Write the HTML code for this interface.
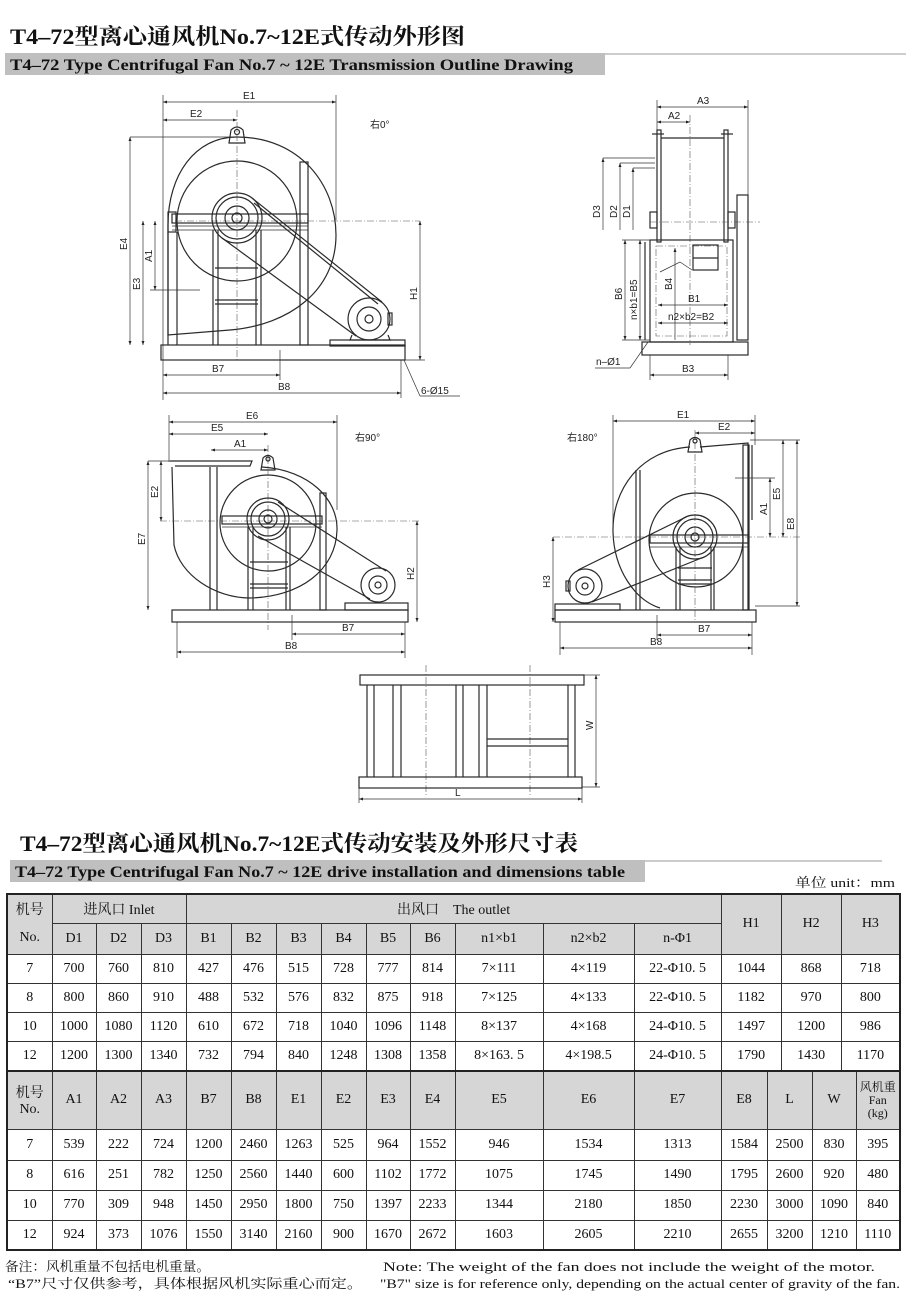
<!DOCTYPE html>
<html><head><meta charset="utf-8">
<style>
html,body{margin:0;padding:0;background:#fff;}
body{width:906px;height:1305px;position:relative;overflow:hidden;font-family:"Liberation Serif","Noto Serif CJK SC",serif;}
svg{position:absolute;left:0;top:0;}
table{position:absolute;left:6px;border-collapse:collapse;table-layout:fixed;border:2px solid #222;font-family:"Liberation Serif","Noto Serif CJK SC",serif;font-size:14px;color:#111;}
td{border:1px solid #333;text-align:center;padding:0;white-space:nowrap;overflow:hidden;}
td.h{background:#d6d6d6;}
.l{stroke:#2a2a2a;fill:none;stroke-width:1.2}
.t{stroke:#333;fill:none;stroke-width:.7}
.c{stroke:#555;fill:none;stroke-width:.6;stroke-dasharray:7 2 1 2}
.lab{font-family:"Liberation Sans","Noto Sans CJK SC",sans-serif;font-size:10px;fill:#222}
</style></head><body>
<svg width="906" height="1305" viewBox="0 0 906 1305">
<defs>
<marker id="a" viewBox="0 0 8 6" refX="8" refY="3" markerWidth="6" markerHeight="5" orient="auto-start-reverse"><path d="M0,0L8,3L0,6z" fill="#222"/></marker>
</defs>
<!-- headers -->
<text x="10" y="44" font-family="Liberation Serif,Noto Serif CJK SC,serif" font-weight="bold" font-size="22" textLength="455" lengthAdjust="spacingAndGlyphs" fill="#111">T4–72型离心通风机No.7~12E式传动外形图</text>
<rect x="5" y="53" width="600" height="22" fill="#bfbfbf"/>
<line x1="605" y1="54" x2="906" y2="54" stroke="#bbb" stroke-width="1.5"/>
<text x="10" y="70" font-family="Liberation Serif,serif" font-weight="bold" font-size="16" textLength="563" lengthAdjust="spacingAndGlyphs" fill="#111">T4–72 Type Centrifugal Fan No.7 ~ 12E Transmission Outline Drawing</text>

<text x="20" y="851" font-family="Liberation Serif,Noto Serif CJK SC,serif" font-weight="bold" font-size="22" textLength="558" lengthAdjust="spacingAndGlyphs" fill="#111">T4–72型离心通风机No.7~12E式传动安装及外形尺寸表</text>
<rect x="10" y="860" width="635" height="22" fill="#bfbfbf"/>
<line x1="645" y1="861" x2="882" y2="861" stroke="#bbb" stroke-width="1.5"/>
<text x="15" y="877" font-family="Liberation Serif,serif" font-weight="bold" font-size="16" textLength="610" lengthAdjust="spacingAndGlyphs" fill="#111">T4–72 Type Centrifugal Fan No.7 ~ 12E drive installation and dimensions table</text>
<text x="795" y="887" font-family="Liberation Serif,Noto Serif CJK SC,serif" font-size="13" textLength="100" lengthAdjust="spacingAndGlyphs" fill="#111">单位 unit：mm</text>

<!-- footer -->
<text x="5" y="1271" font-family="Liberation Serif,Noto Serif CJK SC,serif" font-size="13" textLength="205" lengthAdjust="spacingAndGlyphs" fill="#111">备注：风机重量不包括电机重量。</text>
<text x="8" y="1288" font-family="Liberation Serif,Noto Serif CJK SC,serif" font-size="13" textLength="355" lengthAdjust="spacingAndGlyphs" fill="#111">“B7”尺寸仅供参考，具体根据风机实际重心而定。</text>
<text x="383" y="1271" font-family="Liberation Serif,serif" font-size="13" textLength="492" lengthAdjust="spacingAndGlyphs" fill="#111">Note: The weight of the fan does not include the weight of the motor.</text>
<text x="380" y="1288" font-family="Liberation Serif,serif" font-size="13" textLength="520" lengthAdjust="spacingAndGlyphs" fill="#111">"B7" size is for reference only, depending on the actual center of gravity of the fan.</text>

<!-- ===== Drawing 1 ===== -->
<g>
<line class="t" x1="163" y1="95" x2="163" y2="400"/><line class="t" x1="336" y1="95" x2="336" y2="220"/>
<line class="t" x1="163" y1="102" x2="336" y2="102" marker-start="url(#a)" marker-end="url(#a)"/>
<text class="lab" x="243" y="99">E1</text>
<line class="t" x1="163" y1="120" x2="237" y2="120" marker-start="url(#a)" marker-end="url(#a)"/>
<text class="lab" x="190" y="117">E2</text>
<text class="lab" x="370" y="128">右0°</text>
<path class="l" d="M237,137 C300,137 336,185 336,235 C336,290 290,325 230,330 L168,335 L168,225 C168,175 195,137 237,137"/>
<circle class="l" cx="237" cy="221" r="60"/>
<path class="l" d="M229,143 L231,130 Q237,124 243,130 L245,143 Z"/><circle class="l" cx="237" cy="132" r="2.5"/>
<line class="c" x1="237" y1="110" x2="237" y2="360"/>
<line class="c" x1="175" y1="221" x2="420" y2="221"/>
<rect class="l" x="172" y="214" width="136" height="9"/><line class="t" x1="172" y1="226" x2="308" y2="226"/><line class="t" x1="172" y1="230" x2="308" y2="230"/>
<rect class="l" x="168" y="212" width="8" height="20"/>
<line class="l" x1="168" y1="232" x2="168" y2="345"/><line class="l" x1="177" y1="232" x2="177" y2="345"/>
<line class="l" x1="213" y1="230" x2="213" y2="345"/><line class="l" x1="218" y1="230" x2="218" y2="345"/>
<line class="l" x1="256" y1="230" x2="256" y2="345"/><line class="l" x1="261" y1="230" x2="261" y2="345"/>
<line class="l" x1="215" y1="268" x2="258" y2="268"/><line class="l" x1="215" y1="300" x2="258" y2="300"/><line class="l" x1="215" y1="304" x2="258" y2="304"/>
<rect class="l" x="300" y="162" width="8" height="183"/>
<circle class="l" cx="237" cy="218" r="25" stroke-width="2.5"/><circle class="l" cx="237" cy="218" r="21"/><circle class="l" cx="237" cy="218" r="12"/><circle class="l" cx="237" cy="218" r="5"/>
<line class="l" x1="252" y1="198" x2="382" y2="302" stroke-width="2"/><line class="l" x1="254" y1="203" x2="378" y2="304"/>
<line class="l" x1="222" y1="238" x2="356" y2="336" stroke-width="2"/>
<circle class="l" cx="369" cy="319" r="21" stroke-width="1.8"/><circle class="l" cx="369" cy="319" r="12"/><circle class="l" cx="369" cy="319" r="4"/>
<rect class="l" x="388" y="313" width="4" height="12"/>
<path class="l" d="M352,335 L350,340 L390,340 L388,335"/>
<rect class="l" x="330" y="340" width="75" height="6"/>
<rect class="l" x="161" y="345" width="244" height="15" stroke-width="1.5"/>
<line class="t" x1="130" y1="137" x2="237" y2="137"/>
<line class="t" x1="130" y1="137" x2="130" y2="345" marker-start="url(#a)" marker-end="url(#a)"/>
<text class="lab" transform="translate(127,250) rotate(-90)">E4</text>
<line class="t" x1="143" y1="221" x2="143" y2="345" marker-start="url(#a)" marker-end="url(#a)"/>
<text class="lab" transform="translate(140,290) rotate(-90)">E3</text>
<line class="t" x1="155" y1="221" x2="155" y2="290" marker-start="url(#a)" marker-end="url(#a)"/>
<text class="lab" transform="translate(152,262) rotate(-90)">A1</text>
<line class="t" x1="150" y1="290" x2="200" y2="290"/>
<line class="t" x1="420" y1="221" x2="420" y2="360" marker-start="url(#a)" marker-end="url(#a)"/>
<text class="lab" transform="translate(417,300) rotate(-90)">H1</text>
<line class="t" x1="405" y1="360" x2="425" y2="360"/>
<line class="t" x1="280" y1="350" x2="280" y2="380"/><line class="t" x1="401" y1="360" x2="401" y2="398"/>
<line class="t" x1="163" y1="375" x2="280" y2="375" marker-start="url(#a)" marker-end="url(#a)"/>
<text class="lab" x="212" y="372">B7</text>
<line class="t" x1="163" y1="393" x2="401" y2="393" marker-start="url(#a)" marker-end="url(#a)"/>
<text class="lab" x="278" y="390">B8</text>
<line class="t" x1="404" y1="360" x2="420" y2="396"/><line class="t" x1="420" y1="396" x2="460" y2="396"/>
<text class="lab" x="421" y="394">6-Ø15</text>
</g>

<!-- ===== Drawing 2 ===== -->
<g>
<line class="t" x1="657" y1="100" x2="657" y2="135"/><line class="t" x1="748" y1="100" x2="748" y2="340"/>
<line class="t" x1="657" y1="107" x2="748" y2="107" marker-start="url(#a)" marker-end="url(#a)"/>
<text class="lab" x="697" y="104">A3</text>
<line class="t" x1="657" y1="122" x2="690" y2="122" marker-start="url(#a)" marker-end="url(#a)"/>
<text class="lab" x="668" y="119">A2</text>
<line class="c" x1="690" y1="115" x2="690" y2="345"/>
<line class="l" x1="652" y1="134" x2="664" y2="134"/><line class="l" x1="721" y1="134" x2="733" y2="134"/>
<rect class="l" x="657" y="130" width="4" height="112" fill="#333"/><rect class="l" x="724" y="130" width="4" height="112" fill="#333"/>
<line class="l" x1="661" y1="138" x2="724" y2="138"/>
<rect class="l" x="650" y="212" width="7" height="16"/><rect class="l" x="728" y="212" width="7" height="16"/>
<line class="c" x1="650" y1="222" x2="760" y2="222"/>
<rect class="l" x="737" y="195" width="11" height="145"/>
<rect class="l" x="650" y="240" width="83" height="102" stroke-width="1.8"/>
<rect class="c" x="656" y="246" width="71" height="90" stroke-width="1"/>
<rect class="l" x="693" y="245" width="25" height="25"/><line class="l" x1="693" y1="258" x2="718" y2="258"/>
<path class="t" d="M660,272 L680,262 L692,270"/>
<rect class="l" x="642" y="342" width="106" height="13" stroke-width="1.5"/>
<line class="l" x1="645" y1="242" x2="645" y2="340" stroke-width="2"/>
<line class="t" x1="603" y1="158" x2="655" y2="158"/><line class="t" x1="620" y1="163" x2="655" y2="163"/><line class="t" x1="633" y1="168" x2="655" y2="168"/>
<line class="t" x1="603" y1="158" x2="603" y2="230" marker-start="url(#a)"/><line class="t" x1="620" y1="163" x2="620" y2="230" marker-start="url(#a)"/><line class="t" x1="633" y1="168" x2="633" y2="230" marker-start="url(#a)"/>
<text class="lab" transform="translate(600,218) rotate(-90)">D3</text><text class="lab" transform="translate(617,218) rotate(-90)">D2</text><text class="lab" transform="translate(630,218) rotate(-90)">D1</text>
<line class="t" x1="622" y1="240" x2="650" y2="240"/><line class="t" x1="622" y1="340" x2="650" y2="340"/>
<line class="t" x1="625" y1="240" x2="625" y2="340" marker-start="url(#a)" marker-end="url(#a)"/>
<text class="lab" transform="translate(622,300) rotate(-90)">B6</text>
<line class="t" x1="640" y1="240" x2="640" y2="340" marker-start="url(#a)" marker-end="url(#a)"/>
<text class="lab" transform="translate(637,320) rotate(-90)" font-size="9">n×b1=B5</text>
<line class="t" x1="675" y1="248" x2="675" y2="340" marker-start="url(#a)"/>
<text class="lab" transform="translate(672,290) rotate(-90)">B4</text>
<line class="t" x1="658" y1="305" x2="728" y2="305" marker-start="url(#a)" marker-end="url(#a)"/>
<text class="lab" x="688" y="302">B1</text>
<line class="t" x1="658" y1="323" x2="728" y2="323" marker-start="url(#a)" marker-end="url(#a)"/>
<text class="lab" x="668" y="320" font-size="9">n2×b2=B2</text>
<line class="t" x1="650" y1="355" x2="650" y2="380"/><line class="t" x1="728" y1="355" x2="728" y2="380"/>
<line class="t" x1="650" y1="375" x2="728" y2="375" marker-start="url(#a)" marker-end="url(#a)"/>
<text class="lab" x="682" y="372">B3</text>
<line class="t" x1="595" y1="368" x2="630" y2="368"/><line class="t" x1="630" y1="368" x2="648" y2="342"/>
<text class="lab" x="596" y="365">n–Ø1</text>
</g>

<!-- ===== Drawing 3 ===== -->
<g>
<line class="t" x1="169" y1="415" x2="169" y2="462"/><line class="t" x1="337" y1="415" x2="337" y2="510"/>
<line class="t" x1="169" y1="422" x2="337" y2="422" marker-start="url(#a)" marker-end="url(#a)"/>
<text class="lab" x="246" y="419">E6</text>
<line class="t" x1="169" y1="434" x2="268" y2="434" marker-start="url(#a)" marker-end="url(#a)"/>
<text class="lab" x="211" y="431">E5</text>
<line class="t" x1="211" y1="450" x2="268" y2="450" marker-start="url(#a)" marker-end="url(#a)"/>
<text class="lab" x="234" y="447">A1</text>
<text class="lab" x="355" y="441">右90°</text>
<path class="l" d="M170,461 L252,461 L250,466 L175,466"/>
<path class="l" d="M262,467 C310,470 338,500 337,530 C336,570 300,597 250,598 C215,598 180,575 174,545 L172,467"/>
<circle class="l" cx="268" cy="523" r="48"/>
<path class="l" d="M261,470 L263,458 Q268,453 273,458 L275,470 Z"/><circle class="l" cx="268" cy="459" r="2"/>
<line class="c" x1="268" y1="445" x2="268" y2="630"/>
<line class="c" x1="160" y1="521" x2="420" y2="521"/>
<rect class="l" x="222" y="516" width="100" height="8"/><line class="t" x1="222" y1="527" x2="322" y2="527"/>
<line class="l" x1="210" y1="467" x2="210" y2="610"/><line class="l" x1="217" y1="467" x2="217" y2="610"/>
<line class="l" x1="248" y1="527" x2="248" y2="610"/><line class="l" x1="253" y1="527" x2="253" y2="610"/>
<line class="l" x1="286" y1="527" x2="286" y2="610"/><line class="l" x1="290" y1="527" x2="290" y2="610"/>
<line class="l" x1="250" y1="562" x2="288" y2="562"/><line class="l" x1="250" y1="584" x2="288" y2="584"/><line class="l" x1="250" y1="588" x2="288" y2="588"/>
<rect class="l" x="320" y="493" width="6" height="117"/>
<circle class="l" cx="268" cy="519" r="21" stroke-width="2.5"/><circle class="l" cx="268" cy="519" r="17"/><circle class="l" cx="268" cy="519" r="9"/><circle class="l" cx="268" cy="519" r="4"/>
<line class="l" x1="278" y1="502" x2="386" y2="571" stroke-width="2"/><line class="l" x1="258" y1="536" x2="370" y2="599" stroke-width="2"/>
<circle class="l" cx="378" cy="585" r="17" stroke-width="1.8"/><circle class="l" cx="378" cy="585" r="9"/><circle class="l" cx="378" cy="585" r="3"/>
<rect class="l" x="345" y="603" width="63" height="7"/>
<rect class="l" x="172" y="610" width="236" height="12" stroke-width="1.5"/>
<line class="t" x1="148" y1="461" x2="170" y2="461"/>
<line class="t" x1="148" y1="461" x2="148" y2="610" marker-start="url(#a)" marker-end="url(#a)"/>
<text class="lab" transform="translate(145,545) rotate(-90)">E7</text>
<line class="t" x1="161" y1="461" x2="161" y2="521" marker-start="url(#a)" marker-end="url(#a)"/>
<text class="lab" transform="translate(158,498) rotate(-90)">E2</text>
<line class="t" x1="417" y1="521" x2="417" y2="622" marker-start="url(#a)" marker-end="url(#a)"/>
<text class="lab" transform="translate(414,580) rotate(-90)">H2</text>
<line class="t" x1="292" y1="615" x2="292" y2="640"/><line class="t" x1="405" y1="622" x2="405" y2="658"/><line class="t" x1="177" y1="622" x2="177" y2="658"/>
<line class="t" x1="292" y1="634" x2="405" y2="634" marker-start="url(#a)" marker-end="url(#a)"/>
<text class="lab" x="342" y="631">B7</text>
<line class="t" x1="177" y1="652" x2="405" y2="652" marker-start="url(#a)" marker-end="url(#a)"/>
<text class="lab" x="285" y="649">B8</text>
</g>

<!-- ===== Drawing 4 ===== -->
<g>
<line class="t" x1="613" y1="415" x2="613" y2="525"/><line class="t" x1="755" y1="415" x2="755" y2="445"/>
<line class="t" x1="613" y1="421" x2="755" y2="421" marker-start="url(#a)" marker-end="url(#a)"/>
<text class="lab" x="677" y="418">E1</text>
<line class="t" x1="695" y1="433" x2="755" y2="433" marker-start="url(#a)" marker-end="url(#a)"/>
<text class="lab" x="718" y="430">E2</text>
<text class="lab" x="567" y="441">右180°</text>
<path class="l" d="M700,447 L748,443 L748,610 M690,447 C640,450 612,490 613,532 C614,570 635,600 660,608"/>
<circle class="l" cx="696" cy="540" r="47"/>
<path class="l" d="M688,452 L690,440 Q695,435 700,440 L702,452 Z"/><circle class="l" cx="695" cy="441" r="2"/>
<line class="c" x1="695" y1="430" x2="695" y2="622"/>
<line class="c" x1="553" y1="537" x2="800" y2="537"/>
<rect class="l" x="650" y="535" width="98" height="8"/><line class="t" x1="650" y1="547" x2="748" y2="547"/>
<line class="l" x1="636" y1="470" x2="636" y2="610"/><line class="l" x1="640" y1="470" x2="640" y2="610"/>
<line class="l" x1="676" y1="547" x2="676" y2="610"/><line class="l" x1="680" y1="547" x2="680" y2="610"/>
<line class="l" x1="711" y1="547" x2="711" y2="610"/><line class="l" x1="714" y1="547" x2="714" y2="610"/>
<line class="l" x1="678" y1="568" x2="712" y2="568"/><line class="l" x1="678" y1="580" x2="712" y2="580"/><line class="l" x1="678" y1="584" x2="712" y2="584"/>
<rect class="l" x="743" y="445" width="6" height="165"/><line class="l" x1="752" y1="445" x2="752" y2="520"/>
<circle class="l" cx="695" cy="537" r="22" stroke-width="2.5"/><circle class="l" cx="695" cy="537" r="18"/><circle class="l" cx="695" cy="537" r="10"/><circle class="l" cx="695" cy="537" r="4"/>
<line class="l" x1="686" y1="517" x2="578" y2="570" stroke-width="2"/><line class="l" x1="704" y1="557" x2="592" y2="602" stroke-width="2"/>
<circle class="l" cx="585" cy="586" r="17" stroke-width="1.8"/><circle class="l" cx="585" cy="586" r="9"/><circle class="l" cx="585" cy="586" r="3"/>
<rect class="l" x="566" y="581" width="4" height="10"/>
<rect class="l" x="555" y="604" width="65" height="6"/>
<rect class="l" x="555" y="610" width="201" height="12" stroke-width="1.5"/>
<line class="t" x1="553" y1="537" x2="553" y2="622" marker-start="url(#a)" marker-end="url(#a)"/>
<text class="lab" transform="translate(550,588) rotate(-90)">H3</text>
<line class="t" x1="735" y1="478" x2="775" y2="478"/><line class="t" x1="750" y1="440" x2="800" y2="440"/><line class="t" x1="755" y1="606" x2="800" y2="606"/>
<line class="t" x1="770" y1="478" x2="770" y2="537" marker-start="url(#a)" marker-end="url(#a)"/>
<text class="lab" transform="translate(767,515) rotate(-90)">A1</text>
<line class="t" x1="783" y1="440" x2="783" y2="537" marker-start="url(#a)" marker-end="url(#a)"/>
<text class="lab" transform="translate(780,500) rotate(-90)">E5</text>
<line class="t" x1="797" y1="440" x2="797" y2="606" marker-start="url(#a)" marker-end="url(#a)"/>
<text class="lab" transform="translate(794,530) rotate(-90)">E8</text>
<line class="t" x1="657" y1="615" x2="657" y2="640"/><line class="t" x1="752" y1="622" x2="752" y2="655"/><line class="t" x1="560" y1="622" x2="560" y2="655"/>
<line class="t" x1="657" y1="635" x2="752" y2="635" marker-start="url(#a)" marker-end="url(#a)"/>
<text class="lab" x="698" y="632">B7</text>
<line class="t" x1="560" y1="648" x2="752" y2="648" marker-start="url(#a)" marker-end="url(#a)"/>
<text class="lab" x="650" y="645">B8</text>
</g>

<!-- ===== Drawing 5 ===== -->
<g>
<line class="c" x1="426" y1="665" x2="426" y2="795"/><line class="c" x1="530" y1="665" x2="530" y2="795"/>
<rect class="l" x="360" y="675" width="224" height="10"/>
<rect class="l" x="359" y="777" width="223" height="11"/>
<line class="l" x1="367" y1="685" x2="367" y2="777"/><line class="l" x1="374" y1="685" x2="374" y2="777"/>
<line class="l" x1="393" y1="685" x2="393" y2="777"/><line class="l" x1="401" y1="685" x2="401" y2="777"/>
<line class="l" x1="456" y1="685" x2="456" y2="777"/><line class="l" x1="463" y1="685" x2="463" y2="777"/>
<line class="l" x1="479" y1="685" x2="479" y2="777"/><line class="l" x1="487" y1="685" x2="487" y2="777"/>
<line class="l" x1="568" y1="685" x2="568" y2="777"/><line class="l" x1="575" y1="685" x2="575" y2="777"/>
<line class="l" x1="487" y1="739" x2="568" y2="739"/><line class="l" x1="487" y1="746" x2="568" y2="746"/>
<line class="t" x1="584" y1="675" x2="600" y2="675"/><line class="t" x1="582" y1="787" x2="600" y2="787"/>
<line class="t" x1="596" y1="675" x2="596" y2="787" marker-start="url(#a)" marker-end="url(#a)"/>
<text class="lab" transform="translate(593,730) rotate(-90)">W</text>
<line class="t" x1="359" y1="788" x2="359" y2="803"/><line class="t" x1="582" y1="788" x2="582" y2="803"/>
<line class="t" x1="359" y1="799" x2="582" y2="799" marker-start="url(#a)" marker-end="url(#a)"/>
<text class="lab" x="455" y="796">L</text>
</g>
</svg>

<table style="top:893px;width:893px;">
<colgroup><col style="width:45px"><col style="width:44px"><col style="width:45px"><col style="width:45px"><col style="width:45px"><col style="width:45px"><col style="width:45px"><col style="width:45px"><col style="width:44px"><col style="width:45px"><col style="width:88px"><col style="width:91px"><col style="width:87px"><col style="width:60px"><col style="width:60px"><col style="width:59px"></colgroup>
<tr style="height:29px"><td class="h" style="border-bottom:none">机号</td><td class="h" colspan="3">进风口 Inlet</td><td class="h" colspan="9">出风口　The outlet</td><td class="h" rowspan="2">H1</td><td class="h" rowspan="2">H2</td><td class="h" rowspan="2">H3</td></tr>
<tr style="height:31px"><td class="h" style="border-top:none">No.</td><td class="h">D1</td><td class="h">D2</td><td class="h">D3</td><td class="h">B1</td><td class="h">B2</td><td class="h">B3</td><td class="h">B4</td><td class="h">B5</td><td class="h">B6</td><td class="h">n1×b1</td><td class="h">n2×b2</td><td class="h">n-Φ1</td></tr>
<tr style="height:29px"><td>7</td><td>700</td><td>760</td><td>810</td><td>427</td><td>476</td><td>515</td><td>728</td><td>777</td><td>814</td><td>7×111</td><td>4×119</td><td>22-Φ10. 5</td><td>1044</td><td>868</td><td>718</td></tr>
<tr style="height:29px"><td>8</td><td>800</td><td>860</td><td>910</td><td>488</td><td>532</td><td>576</td><td>832</td><td>875</td><td>918</td><td>7×125</td><td>4×133</td><td>22-Φ10. 5</td><td>1182</td><td>970</td><td>800</td></tr>
<tr style="height:29px"><td>10</td><td>1000</td><td>1080</td><td>1120</td><td>610</td><td>672</td><td>718</td><td>1040</td><td>1096</td><td>1148</td><td>8×137</td><td>4×168</td><td>24-Φ10. 5</td><td>1497</td><td>1200</td><td>986</td></tr>
<tr style="height:30px"><td>12</td><td>1200</td><td>1300</td><td>1340</td><td>732</td><td>794</td><td>840</td><td>1248</td><td>1308</td><td>1358</td><td>8×163. 5</td><td>4×198.5</td><td>24-Φ10. 5</td><td>1790</td><td>1430</td><td>1170</td></tr>
</table>

<table style="top:1070px;width:893px;">
<colgroup><col style="width:45px"><col style="width:44px"><col style="width:45px"><col style="width:45px"><col style="width:45px"><col style="width:45px"><col style="width:45px"><col style="width:45px"><col style="width:44px"><col style="width:45px"><col style="width:88px"><col style="width:91px"><col style="width:87px"><col style="width:46px"><col style="width:45px"><col style="width:44px"><col style="width:44px"></colgroup>
<tr style="height:58px"><td class="h">机号<br>No.</td><td class="h">A1</td><td class="h">A2</td><td class="h">A3</td><td class="h">B7</td><td class="h">B8</td><td class="h">E1</td><td class="h">E2</td><td class="h">E3</td><td class="h">E4</td><td class="h">E5</td><td class="h">E6</td><td class="h">E7</td><td class="h">E8</td><td class="h">L</td><td class="h">W</td><td class="h" style="font-size:12px;line-height:13px">风机重<br>Fan<br>(kg)</td></tr>
<tr style="height:31px"><td>7</td><td>539</td><td>222</td><td>724</td><td>1200</td><td>2460</td><td>1263</td><td>525</td><td>964</td><td>1552</td><td>946</td><td>1534</td><td>1313</td><td>1584</td><td>2500</td><td>830</td><td>395</td></tr>
<tr style="height:30px"><td>8</td><td>616</td><td>251</td><td>782</td><td>1250</td><td>2560</td><td>1440</td><td>600</td><td>1102</td><td>1772</td><td>1075</td><td>1745</td><td>1490</td><td>1795</td><td>2600</td><td>920</td><td>480</td></tr>
<tr style="height:30px"><td>10</td><td>770</td><td>309</td><td>948</td><td>1450</td><td>2950</td><td>1800</td><td>750</td><td>1397</td><td>2233</td><td>1344</td><td>2180</td><td>1850</td><td>2230</td><td>3000</td><td>1090</td><td>840</td></tr>
<tr style="height:30px"><td>12</td><td>924</td><td>373</td><td>1076</td><td>1550</td><td>3140</td><td>2160</td><td>900</td><td>1670</td><td>2672</td><td>1603</td><td>2605</td><td>2210</td><td>2655</td><td>3200</td><td>1210</td><td>1110</td></tr>
</table>
</body></html>
